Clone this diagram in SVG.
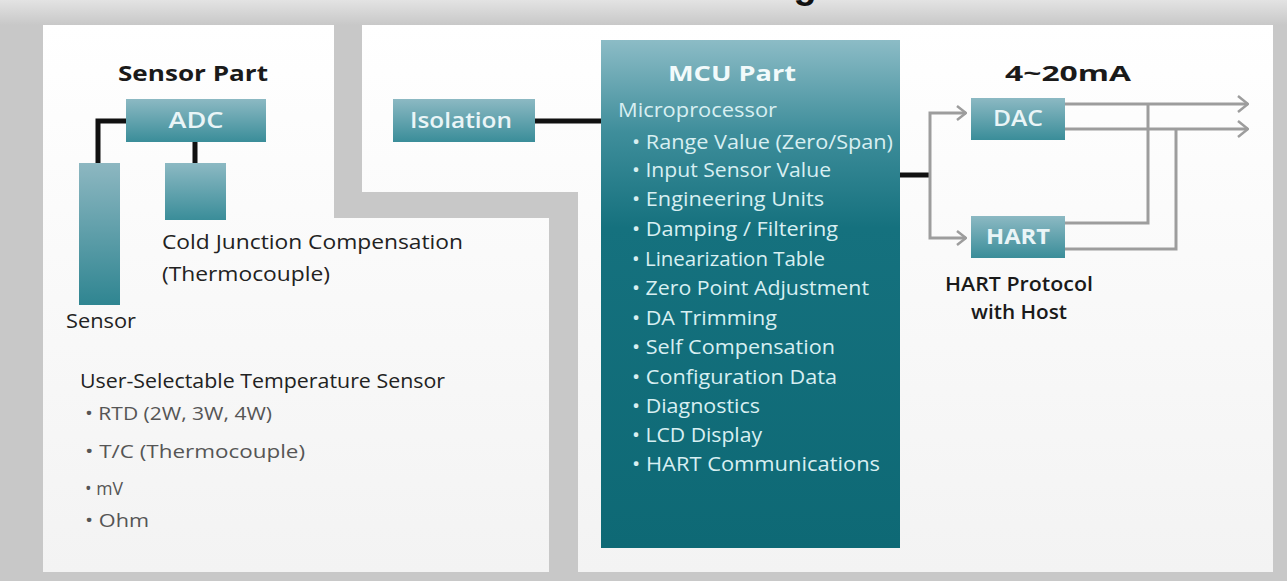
<svg xmlns="http://www.w3.org/2000/svg" width="1287" height="581" viewBox="0 0 1287 581">
<defs>
<style>
text{font-family:"Open Sans","Liberation Sans",Arial,sans-serif}
.h{font-size:22px;font-weight:bold;fill:#1a1a1a}
.bx{font-size:21px;fill:#eaf5f7;font-weight:600}
.lb{font-size:20px;fill:#222}
.li{font-size:19px;fill:#555}
.mc{font-size:20px;fill:#d8eff2}
.blk{fill:none;stroke:#111;stroke-width:5}
.gry{fill:none;stroke:#9d9d9d;stroke-width:3}
.ar{marker-end:url(#chev)}
.arS{marker-end:url(#chevS)}
</style>
<linearGradient id="topband" x1="0" y1="0" x2="0" y2="1">
<stop offset="0" stop-color="#e3e3e3"/><stop offset="1" stop-color="#c8c8c8"/>
</linearGradient>
<linearGradient id="panel" gradientUnits="userSpaceOnUse" x1="0" y1="25" x2="0" y2="572">
<stop offset="0" stop-color="#ffffff"/><stop offset="1" stop-color="#f3f3f3"/>
</linearGradient>
<linearGradient id="box" x1="0" y1="0" x2="0" y2="1">
<stop offset="0" stop-color="#8cb9c3"/><stop offset="1" stop-color="#3a8d99"/>
</linearGradient>
<linearGradient id="bar" x1="0" y1="0" x2="0" y2="1">
<stop offset="0" stop-color="#8db7c1"/><stop offset="1" stop-color="#2f8591"/>
</linearGradient>
<linearGradient id="mcu" x1="0" y1="0" x2="0" y2="1">
<stop offset="0" stop-color="#8cbcc6"/><stop offset="0.18" stop-color="#3f8e9b"/><stop offset="0.37" stop-color="#15717e"/><stop offset="1" stop-color="#0e6975"/>
</linearGradient>
<marker id="chev" viewBox="0 0 12 18" refX="11" refY="9" markerWidth="12" markerHeight="18" markerUnits="userSpaceOnUse" orient="auto">
<path d="M1,1 L11,9 L1,17" fill="none" stroke="#9d9d9d" stroke-width="2.5"/>
</marker>
<marker id="chevS" viewBox="0 0 11 16" refX="10" refY="8" markerWidth="11" markerHeight="16" markerUnits="userSpaceOnUse" orient="auto">
<path d="M1,1 L10,8 L1,15" fill="none" stroke="#9d9d9d" stroke-width="2.5"/>
</marker>
</defs>

<g id="background">
<rect x="0" y="0" width="1287" height="581" fill="#c8c8c8"/>
<rect x="0" y="0" width="1287" height="25" fill="url(#topband)"/>
<text x="652" y="-2" text-anchor="middle" style="font-size:38px;font-weight:bold;fill:#111;font-family:'Liberation Sans',Arial,sans-serif">Functional Block Diagram</text>
<path d="M43,25 H334 V218 H549 V572 H43 Z" fill="url(#panel)"/>
<path d="M362,25 H1273 V572 H578 V192 H362 Z" fill="url(#panel)"/>
</g>

<g id="connectors">
<path class="blk" d="M126,121 H98 V163"/>
<path class="blk" d="M195,141 V163"/>
<path class="blk" d="M535,121 H601"/>
<path class="blk" d="M900,175 H931"/>
<path class="gry arS" d="M930,175 V113 H966"/>
<path class="gry arS" d="M930,175 V238 H966"/>
<path class="gry ar" d="M1065,104 H1248"/>
<path class="gry ar" d="M1065,129 H1248"/>
<path class="gry" d="M1065,223 H1148 V104"/>
<path class="gry" d="M1065,249 H1176 V129"/>
</g>

<g id="sensor-part-title">
<text class="h" x="193" y="81" text-anchor="middle" textLength="150" lengthAdjust="spacingAndGlyphs">Sensor Part</text>
</g>

<g id="adc">
<rect x="126" y="99" width="140" height="43" fill="url(#box)"/>
<text class="bx" x="196" y="128" text-anchor="middle" textLength="55" lengthAdjust="spacingAndGlyphs">ADC</text>
</g>

<g id="sensor">
<rect x="79" y="163" width="41" height="142" fill="url(#bar)"/>
<text class="lb" x="66" y="328" textLength="70" lengthAdjust="spacingAndGlyphs">Sensor</text>
</g>

<g id="cold-junction">
<rect x="165" y="163" width="61" height="57" fill="url(#box)"/>
<text class="lb" x="162" y="249" textLength="301" lengthAdjust="spacingAndGlyphs">Cold Junction Compensation</text>
<text class="lb" x="162" y="281" textLength="168" lengthAdjust="spacingAndGlyphs">(Thermocouple)</text>
</g>

<g id="sensor-types">
<text class="lb" x="80" y="388" textLength="365" lengthAdjust="spacingAndGlyphs">User-Selectable Temperature Sensor</text>
<text class="li" x="85" y="420" textLength="187" lengthAdjust="spacingAndGlyphs">• RTD (2W, 3W, 4W)</text>
<text class="li" x="85" y="458" textLength="220" lengthAdjust="spacingAndGlyphs">• T/C (Thermocouple)</text>
<text class="li" x="85" y="495" textLength="38" lengthAdjust="spacingAndGlyphs">• mV</text>
<text class="li" x="85" y="527" textLength="64" lengthAdjust="spacingAndGlyphs">• Ohm</text>
</g>

<g id="isolation">
<rect x="393" y="99" width="142" height="43" fill="url(#box)"/>
<text class="bx" x="461" y="128" text-anchor="middle" textLength="102" lengthAdjust="spacingAndGlyphs">Isolation</text>
</g>

<g id="mcu">
<rect x="601" y="40" width="299" height="508" fill="url(#mcu)"/>
<text x="732" y="81" text-anchor="middle" textLength="128" lengthAdjust="spacingAndGlyphs" style="font-size:22px;font-weight:bold;fill:#f2fafb">MCU Part</text>
<text class="mc" x="618" y="117" textLength="159" lengthAdjust="spacingAndGlyphs">Microprocessor</text>
<text class="mc" x="632" y="149" textLength="261" lengthAdjust="spacingAndGlyphs">• Range Value (Zero/Span)</text>
<text class="mc" x="632" y="177" textLength="199" lengthAdjust="spacingAndGlyphs">• Input Sensor Value</text>
<text class="mc" x="632" y="206" textLength="192" lengthAdjust="spacingAndGlyphs">• Engineering Units</text>
<text class="mc" x="632" y="236" textLength="206" lengthAdjust="spacingAndGlyphs">• Damping / Filtering</text>
<text class="mc" x="632" y="266" textLength="193" lengthAdjust="spacingAndGlyphs">• Linearization Table</text>
<text class="mc" x="632" y="295" textLength="237" lengthAdjust="spacingAndGlyphs">• Zero Point Adjustment</text>
<text class="mc" x="632" y="325" textLength="145" lengthAdjust="spacingAndGlyphs">• DA Trimming</text>
<text class="mc" x="632" y="354" textLength="203" lengthAdjust="spacingAndGlyphs">• Self Compensation</text>
<text class="mc" x="632" y="384" textLength="205" lengthAdjust="spacingAndGlyphs">• Configuration Data</text>
<text class="mc" x="632" y="413" textLength="128" lengthAdjust="spacingAndGlyphs">• Diagnostics</text>
<text class="mc" x="632" y="442" textLength="130" lengthAdjust="spacingAndGlyphs">• LCD Display</text>
<text class="mc" x="632" y="471" textLength="248" lengthAdjust="spacingAndGlyphs">• HART Communications</text>
</g>

<g id="output-title">
<text class="h" x="1068" y="81" text-anchor="middle" textLength="126" lengthAdjust="spacingAndGlyphs">4~20mA</text>
</g>

<g id="dac">
<rect x="971" y="98" width="94" height="42" fill="url(#box)"/>
<text class="bx" x="1018" y="126" text-anchor="middle" textLength="50" lengthAdjust="spacingAndGlyphs">DAC</text>
</g>

<g id="hart">
<rect x="971" y="216" width="94" height="42" fill="url(#box)"/>
<text class="bx" x="1018" y="244" text-anchor="middle" textLength="64" lengthAdjust="spacingAndGlyphs" style="font-weight:bold">HART</text>
<text class="lb" x="1019" y="291" text-anchor="middle" textLength="148" lengthAdjust="spacingAndGlyphs" style="fill:#1a1a1a;font-weight:600">HART Protocol</text>
<text class="lb" x="1019" y="319" text-anchor="middle" textLength="96" lengthAdjust="spacingAndGlyphs" style="fill:#1a1a1a;font-weight:600">with Host</text>
</g>
</svg>
